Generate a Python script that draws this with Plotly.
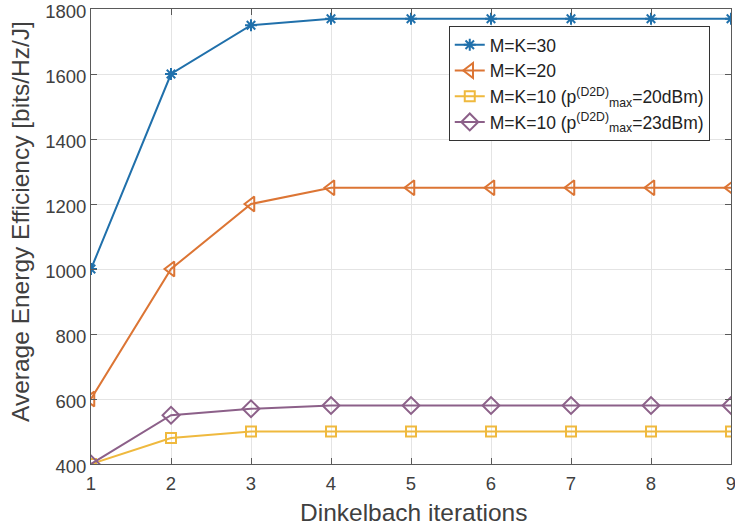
import plotly.graph_objects as go

iterations = [1, 2, 3, 4, 5, 6, 7, 8, 9]
mk30 = [1000, 1600, 1750, 1770, 1770, 1770, 1770, 1770, 1770]
mk20 = [600, 1000, 1200, 1250, 1250, 1250, 1250, 1250, 1250]
mk10_20 = [400, 480, 500, 500, 500, 500, 500, 500, 500]
mk10_23 = [400, 550, 570, 580, 580, 580, 580, 580, 580]

names = ["M=K=30", "M=K=20",
         "M=K=10 (p<sup>(D2D)</sup><sub>max</sub>=20dBm)",
         "M=K=10 (p<sup>(D2D)</sup><sub>max</sub>=23dBm)"]
colors = ["#2070ab", "#dc7534", "#efb93e", "#8c6089"]
symbols = ["asterisk-open", "triangle-left-open", "square-open", "diamond-open"]
sizes = [10, 13, 10, 13]
series = [mk30, mk20, mk10_20, mk10_23]

fig = go.Figure()
for n, c, s, sz, y in zip(names, colors, symbols, sizes, series):
    fig.add_trace(go.Scatter(
        x=iterations, y=y, name=n, mode="lines+markers",
        line=dict(color=c, width=2),
        marker=dict(symbol=s, size=sz, color=c, line=dict(color=c, width=2)),
        cliponaxis=True,
    ))

axis_common = dict(
    showline=True, linecolor="#5a5a5a", linewidth=1, mirror="ticks",
    showgrid=True, gridcolor="#e4e4e4", gridwidth=1,
    ticks="inside", ticklen=6, tickcolor="#5a5a5a",
    tickfont=dict(size=18.5, color="#404040"), zeroline=False,
    automargin=False, ticklabeloverflow="allow",
)

fig.update_layout(
    width=735, height=527,
    margin=dict(l=91, r=4, t=9, b=63),
    paper_bgcolor="white", plot_bgcolor="white",
    font=dict(family="Liberation Sans, Arial, sans-serif", color="#404040"),
    xaxis=dict(range=[1, 9], dtick=1, ticklabelstandoff=3, **axis_common),
    yaxis=dict(range=[400, 1800], dtick=200, ticklabelshift=3, **axis_common),
    legend=dict(x=0.559, y=0.963, xanchor="left", yanchor="top",
                bgcolor="white", bordercolor="#333333", borderwidth=1,
                font=dict(size=17.5, color="#222222"), tracegroupgap=0),
    showlegend=True,
    annotations=[
        dict(text="Dinkelbach iterations", xref="paper", yref="paper",
             x=0.504, y=-0.1055, xanchor="center", yanchor="middle",
             showarrow=False, font=dict(size=24.5, color="#404040")),
        dict(text="Average Energy Efficiency [bits/Hz/J]", xref="paper", yref="paper",
             x=-0.111, y=0.534, xanchor="center", yanchor="middle", textangle=-90,
             showarrow=False, font=dict(size=24.5, color="#404040")),
    ],
)

fig.write_html("out.html", config={"displayModeBar": False},
               post_script="document.body.style.margin='0';document.body.style.overflow='hidden';")
